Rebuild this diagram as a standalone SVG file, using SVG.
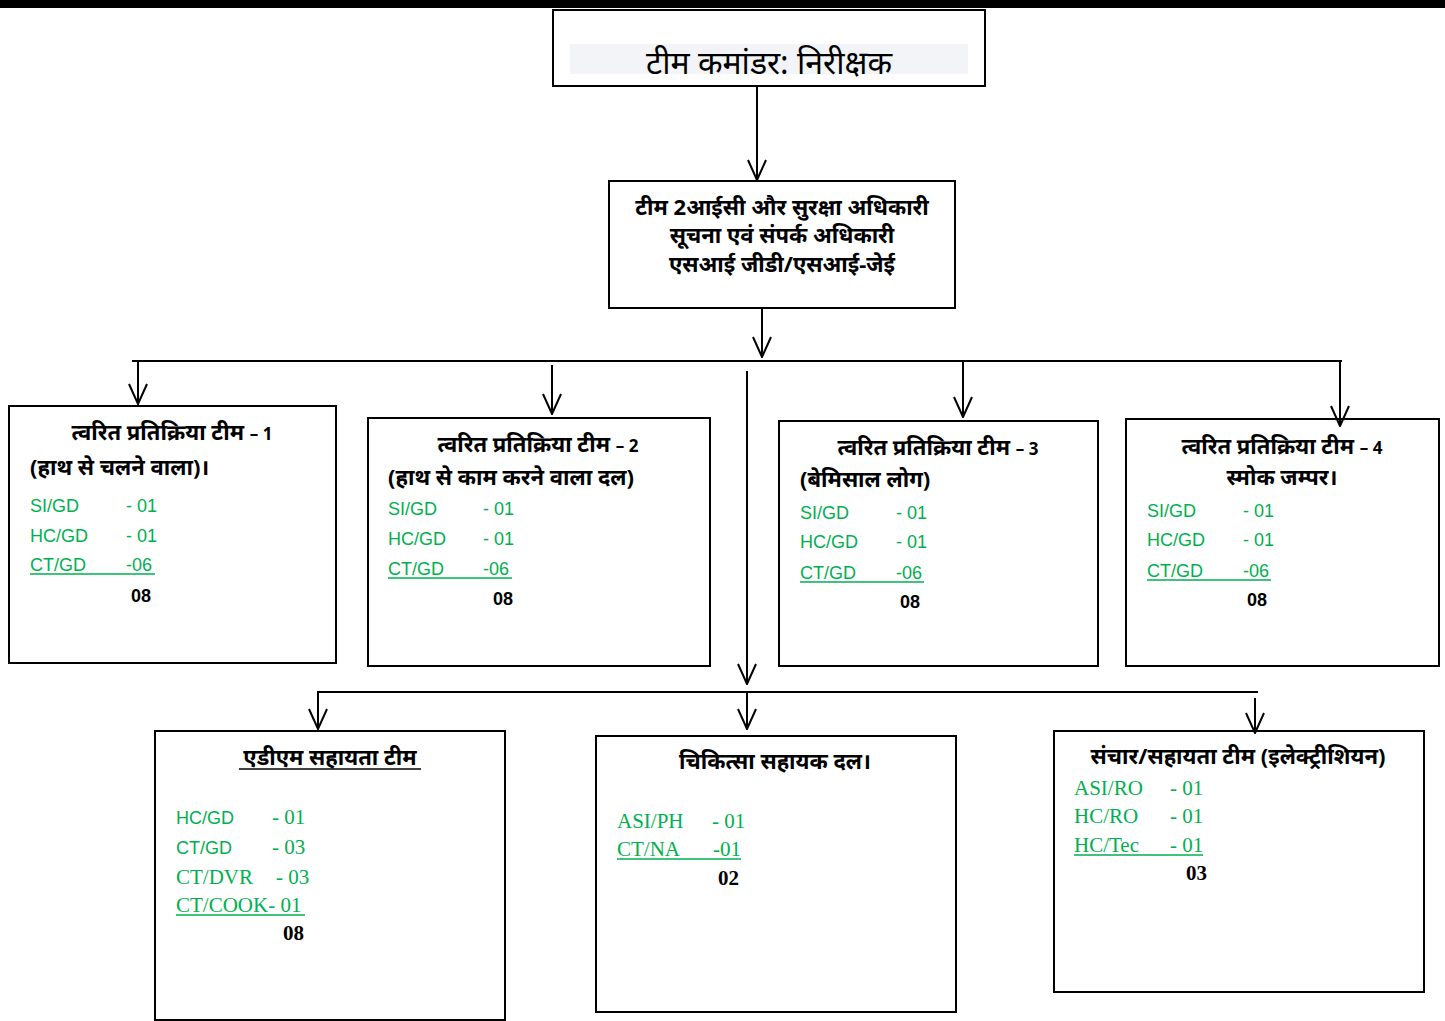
<svg xmlns="http://www.w3.org/2000/svg" width="1445" height="1021" viewBox="0 0 1445 1021">
<defs>
<style>
.box{fill:#fff;stroke:#000;stroke-width:2}
.ln{stroke:#000;stroke-width:2;fill:none}
.hd{font-family:"Noto Sans","Noto Sans Devanagari","Lohit Devanagari",sans-serif;font-weight:bold;font-size:22px;fill:#000}
.num{font-size:17px}
.g{font-family:"Liberation Sans",Arial,sans-serif;font-size:18px;fill:#00b050}
.gs{font-family:"Liberation Serif","Times New Roman",serif;font-size:21px;fill:#00b050}
.tot{font-family:"Liberation Sans",Arial,sans-serif;font-weight:bold;font-size:18px;fill:#000}
.tots{font-family:"Liberation Serif","Times New Roman",serif;font-weight:bold;font-size:21px;fill:#000}
.ul{stroke:#00b050;stroke-width:1.5}
</style>
<marker id="arr" viewBox="0 0 22 20" refX="21" refY="10" markerWidth="22" markerHeight="20" markerUnits="userSpaceOnUse" orient="auto">
<path d="M1,1 L21,10 L1,19" fill="none" stroke="#000" stroke-width="2"/>
</marker>
</defs>
<rect x="0" y="0" width="1445" height="1021" fill="#fff"/>
<rect x="0" y="0" width="1445" height="8" fill="#000"/>

<g id="commander">
<rect class="box" x="553" y="10" width="432" height="76"/>
<rect x="570" y="44" width="398" height="30" fill="#f3f4f7"/>
<text x="769" y="74" text-anchor="middle" font-family="Noto Sans,Noto Sans Devanagari,sans-serif" font-size="32" fill="#000">टीम कमांडर: निरीक्षक</text>
</g>

<g id="officer">
<rect class="box" x="609" y="181" width="346" height="127"/>
<text class="hd" x="782" y="215" text-anchor="middle" font-size="24">टीम 2आईसी और सुरक्षा अधिकारी</text>
<text class="hd" x="782" y="243" text-anchor="middle" font-size="24">सूचना एवं संपर्क अधिकारी</text>
<text class="hd" x="782" y="272" text-anchor="middle" font-size="24">एसआई जीडी/एसआई-जेई</text>
</g>

<g id="team1">
<rect class="box" x="9" y="406" width="327" height="257"/>
<text class="hd" x="172" y="440" text-anchor="middle">त्वरित प्रतिक्रिया टीम <tspan class="num">– 1</tspan></text>
<text class="hd" x="30" y="475">(हाथ से चलने वाला)।</text>
<text class="g" x="30" y="512">SI/GD</text><text class="g" x="126" y="512">- 01</text>
<text class="g" x="30" y="542">HC/GD</text><text class="g" x="126" y="542">- 01</text>
<text class="g" x="30" y="571">CT/GD</text><text class="g" x="126" y="571">-06</text>
<line class="ul" x1="30" y1="574" x2="155" y2="574"/>
<text class="tot" x="131" y="602">08</text>
</g>

<g id="team2">
<rect class="box" x="368" y="418" width="342" height="248"/>
<text class="hd" x="538" y="452" text-anchor="middle">त्वरित प्रतिक्रिया टीम <tspan class="num">– 2</tspan></text>
<text class="hd" x="388" y="485">(हाथ से काम करने वाला दल)</text>
<text class="g" x="388" y="515">SI/GD</text><text class="g" x="483" y="515">- 01</text>
<text class="g" x="388" y="545">HC/GD</text><text class="g" x="483" y="545">- 01</text>
<text class="g" x="388" y="575">CT/GD</text><text class="g" x="483" y="575">-06</text>
<line class="ul" x1="388" y1="578" x2="512" y2="578"/>
<text class="tot" x="493" y="605">08</text>
</g>

<g id="team3">
<rect class="box" x="779" y="421" width="319" height="245"/>
<text class="hd" x="938" y="455" text-anchor="middle">त्वरित प्रतिक्रिया टीम <tspan class="num">– 3</tspan></text>
<text class="hd" x="800" y="487">(बेमिसाल लोग)</text>
<text class="g" x="800" y="519">SI/GD</text><text class="g" x="896" y="519">- 01</text>
<text class="g" x="800" y="548">HC/GD</text><text class="g" x="896" y="548">- 01</text>
<text class="g" x="800" y="579">CT/GD</text><text class="g" x="896" y="579">-06</text>
<line class="ul" x1="800" y1="582" x2="924" y2="582"/>
<text class="tot" x="900" y="608">08</text>
</g>

<g id="team4">
<rect class="box" x="1126" y="419" width="313" height="247"/>
<text class="hd" x="1282" y="454" text-anchor="middle">त्वरित प्रतिक्रिया टीम <tspan class="num">– 4</tspan></text>
<text class="hd" x="1282" y="485" text-anchor="middle">स्मोक जम्पर।</text>
<text class="g" x="1147" y="517">SI/GD</text><text class="g" x="1243" y="517">- 01</text>
<text class="g" x="1147" y="546">HC/GD</text><text class="g" x="1243" y="546">- 01</text>
<text class="g" x="1147" y="577">CT/GD</text><text class="g" x="1243" y="577">-06</text>
<line class="ul" x1="1147" y1="580" x2="1271" y2="580"/>
<text class="tot" x="1247" y="606">08</text>
</g>

<g id="adm">
<rect class="box" x="155" y="731" width="350" height="289"/>
<text class="hd" x="330" y="765" text-anchor="middle">एडीएम सहायता टीम</text>
<line x1="239" y1="769" x2="421" y2="769" stroke="#000" stroke-width="1.5"/>
<text class="g" x="176" y="824">HC/GD</text><text class="gs" x="272" y="824">- 01</text>
<text class="g" x="176" y="854">CT/GD</text><text class="gs" x="272" y="854">- 03</text>
<text class="gs" x="176" y="884">CT/DVR</text><text class="gs" x="276" y="884">- 03</text>
<text class="gs" x="176" y="912">CT/COOK- 01</text>
<line class="ul" x1="176" y1="915" x2="305" y2="915"/>
<text class="tots" x="283" y="940">08</text>
</g>

<g id="medical">
<rect class="box" x="596" y="736" width="360" height="276"/>
<text class="hd" x="775" y="769" text-anchor="middle">चिकित्सा सहायक दल।</text>
<text class="gs" x="617" y="828">ASI/PH</text><text class="gs" x="712" y="828">- 01</text>
<text class="gs" x="617" y="856">CT/NA</text><text class="gs" x="713" y="856">-01</text>
<line class="ul" x1="617" y1="859" x2="741" y2="859"/>
<text class="tots" x="718" y="885">02</text>
</g>

<g id="comm">
<rect class="box" x="1054" y="731" width="370" height="261"/>
<text class="hd" x="1238" y="764" text-anchor="middle">संचार/सहायता टीम (इलेक्ट्रीशियन)</text>
<text class="gs" x="1074" y="795">ASI/RO</text><text class="gs" x="1170" y="795">- 01</text>
<text class="gs" x="1074" y="823">HC/RO</text><text class="gs" x="1170" y="823">- 01</text>
<text class="gs" x="1074" y="852">HC/Tec</text><text class="gs" x="1170" y="852">- 01</text>
<line class="ul" x1="1074" y1="855" x2="1203" y2="855"/>
<text class="tots" x="1186" y="880">03</text>
</g>

<g id="connectors">
<line class="ln" x1="757" y1="86" x2="757" y2="180" marker-end="url(#arr)"/>
<line class="ln" x1="762" y1="308" x2="762" y2="357" marker-end="url(#arr)"/>
<line class="ln" x1="132" y1="361" x2="1342" y2="361"/>
<line class="ln" x1="138" y1="361" x2="138" y2="404" marker-end="url(#arr)"/>
<line class="ln" x1="552" y1="365" x2="552" y2="414" marker-end="url(#arr)"/>
<line class="ln" x1="963" y1="361" x2="963" y2="417" marker-end="url(#arr)"/>
<line class="ln" x1="1340" y1="361" x2="1340" y2="426" marker-end="url(#arr)"/>
<line class="ln" x1="747" y1="371" x2="747" y2="684" marker-end="url(#arr)"/>
<line class="ln" x1="317" y1="692" x2="1258" y2="692"/>
<line class="ln" x1="318" y1="692" x2="318" y2="729" marker-end="url(#arr)"/>
<line class="ln" x1="747" y1="692" x2="747" y2="729" marker-end="url(#arr)"/>
<line class="ln" x1="1255" y1="698" x2="1255" y2="733" marker-end="url(#arr)"/>
</g>
</svg>
